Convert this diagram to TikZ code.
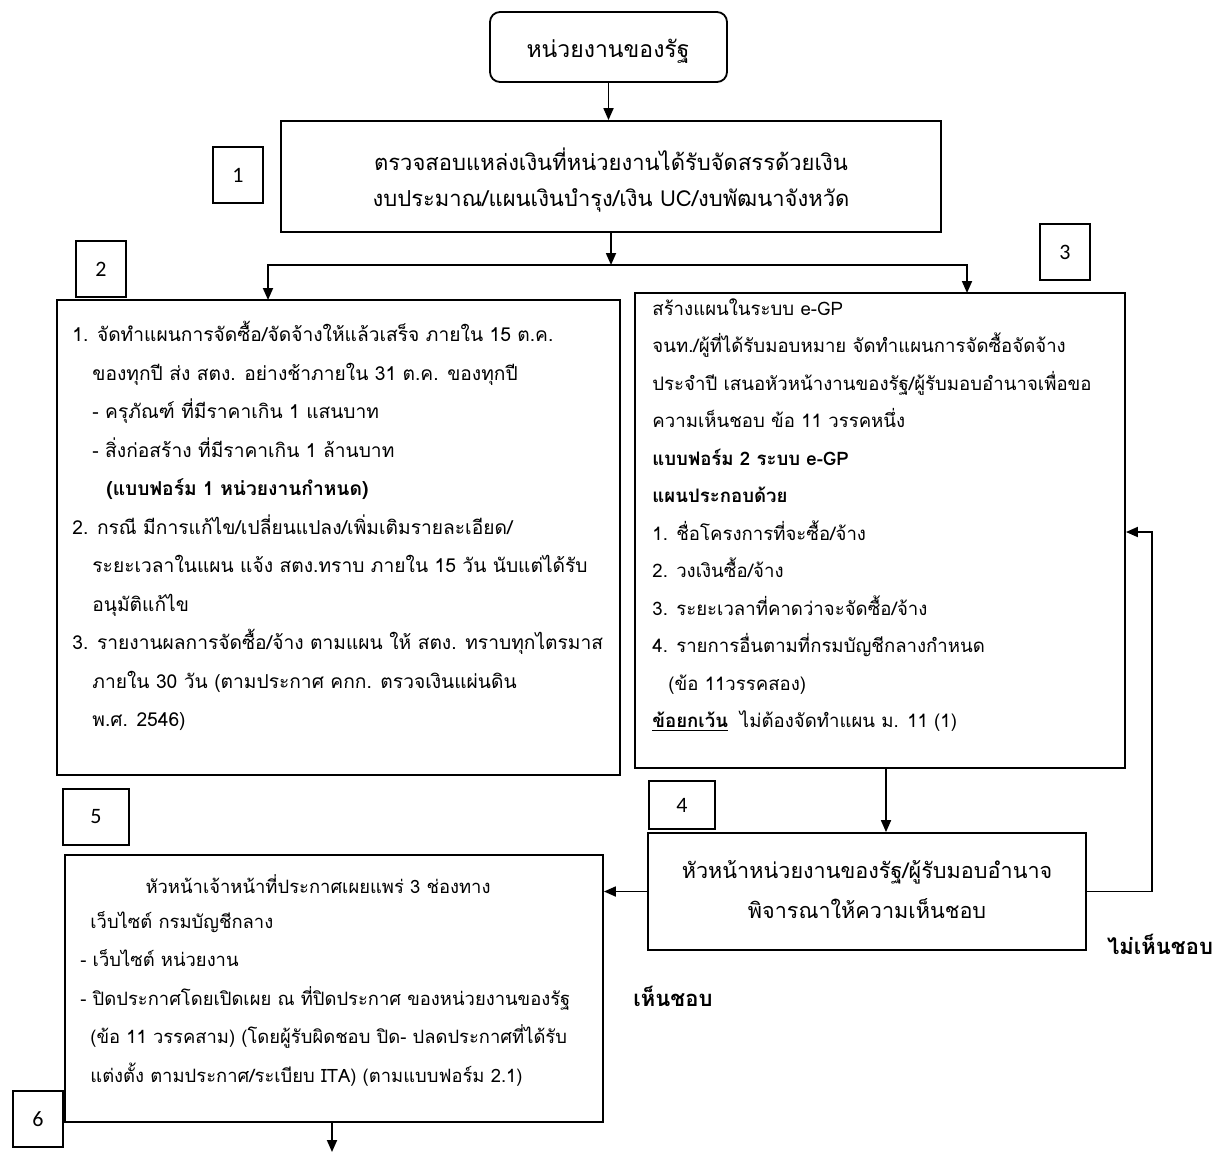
\documentclass[tikz,border=0pt]{standalone}
\usepackage{fontspec}
\setmainfont[Script=Thai]{Loma}
\newfontfamily\numfont{Carlito}
\usetikzlibrary{fit,arrows.meta}

\tikzset{
  box/.style={draw, line width=0.9pt, inner sep=0pt},
  numbox/.style={draw, line width=0.8pt, inner sep=0pt, minimum width=25pt, minimum height=28pt, font=\numfont\fontsize{11}{13}\selectfont},
  arr/.style={line width=0.9pt, -{Triangle[length=6pt,width=5pt]}},
  txt/.style={anchor=north west, align=left, inner sep=0pt, font=\fontsize{9.6}{19.25}\selectfont},
}

\begin{document}
\begin{tikzpicture}[x=0.5pt,y=-0.5pt]
\useasboundingbox (0,0) rectangle (1218,1156);

\node[box, rounded corners=5pt, fit={(490,12) (727,82)}] (unit) {};
\node[box, fit={(281,121) (941,232)}] (check) {};
\node[box, fit={(57,300) (620,775)}] (plan) {};
\node[box, fit={(635,293) (1125,768)}] (egp) {};
\node[box, fit={(648,833) (1086,950)}] (appr) {};
\node[box, fit={(65,855) (603,1122)}] (pub) {};

\node[font=\fontsize{11.5}{14}\selectfont] (unittxt) at (608,51) {หน่วยงานของรัฐ};
\node[align=center, font=\fontsize{11}{18}\selectfont] (checktxt) at (611,180) {ตรวจสอบแหล่งเงินที่หน่วยงานได้รับจัดสรรด้วยเงิน\\งบประมาณ/แผนเงินบำรุง/เงิน UC/งบพัฒนาจังหวัด};
\node[align=center, font=\fontsize{10.8}{20}\selectfont] (apprtxt) at (867,890) {หัวหน้าหน่วยงานของรัฐ/ผู้รับมอบอำนาจ\\พิจารณาให้ความเห็นชอบ};

\node[numbox] (n1) at (238,175) {1};
\node[numbox] (n2) at (101,269) {2};
\node[numbox] (n3) at (1065,252) {3};
\node[numbox, minimum width=33pt, minimum height=24pt] (n4) at (682,805) {4};
\node[numbox, minimum width=33pt] (n5) at (96,817) {5};
\node[numbox] (n6) at (38,1119) {6};

\node[txt] (plantxt) at (72,321) {1. จัดทำแผนการจัดซื้อ/จัดจ้างให้แล้วเสร็จ ภายใน 15 ต.ค.\\
\hspace*{10pt}ของทุกปี ส่ง สตง. อย่างช้าภายใน 31 ต.ค. ของทุกปี\\
\hspace*{10pt}- ครุภัณฑ์ ที่มีราคาเกิน 1 แสนบาท\\
\hspace*{10pt}- สิ่งก่อสร้าง ที่มีราคาเกิน 1 ล้านบาท\\
\hspace*{17pt}\textbf{(แบบฟอร์ม 1 หน่วยงานกำหนด)}\\
2. กรณี มีการแก้ไข/เปลี่ยนแปลง/เพิ่มเติมรายละเอียด/\\
\hspace*{10pt}ระยะเวลาในแผน แจ้ง สตง.ทราบ ภายใน 15 วัน นับแต่ได้รับ\\
\hspace*{10pt}อนุมัติแก้ไข\\
3. รายงานผลการจัดซื้อ/จ้าง ตามแผน ให้ สตง. ทราบทุกไตรมาส\\
\hspace*{10pt}ภายใน 30 วัน (ตามประกาศ คกก. ตรวจเงินแผ่นดิน\\
\hspace*{10pt}พ.ศ. 2546)};

\node[txt, font=\fontsize{9.3}{18.75}\selectfont] (egptxt) at (652,298) {สร้างแผนในระบบ e-GP\\
จนท./ผู้ที่ได้รับมอบหมาย จัดทำแผนการจัดซื้อจัดจ้าง\\
ประจำปี เสนอหัวหน้างานของรัฐ/ผู้รับมอบอำนาจเพื่อขอ\\
ความเห็นชอบ ข้อ 11 วรรคหนึ่ง\\
\textbf{แบบฟอร์ม 2 ระบบ e-GP}\\
\textbf{แผนประกอบด้วย}\\
1. ชื่อโครงการที่จะซื้อ/จ้าง\\
2. วงเงินซื้อ/จ้าง\\
3. ระยะเวลาที่คาดว่าจะจัดซื้อ/จ้าง\\
4. รายการอื่นตามที่กรมบัญชีกลางกำหนด\\
\hspace*{8pt}(ข้อ 11วรรคสอง)\\
\textbf{\underline{ข้อยกเว้น}}\hspace{6pt}ไม่ต้องจัดทำแผน ม. 11 (1)};

\node[font=\fontsize{9.2}{12}\selectfont] (pubhead) at (318,884) {หัวหน้าเจ้าหน้าที่ประกาศเผยแพร่ 3 ช่องทาง};
\node[txt, font=\fontsize{9.2}{19.25}\selectfont] (pubtxt) at (80,911) {\hspace*{5pt}เว็บไซต์ กรมบัญชีกลาง\\
- เว็บไซต์ หน่วยงาน\\
- ปิดประกาศโดยเปิดเผย ณ ที่ปิดประกาศ ของหน่วยงานของรัฐ\\
\hspace*{5pt}(ข้อ 11 วรรคสาม) (โดยผู้รับผิดชอบ ปิด- ปลดประกาศที่ได้รับ\\
\hspace*{5pt}แต่งตั้ง ตามประกาศ/ระเบียบ ITA) (ตามแบบฟอร์ม 2.1)};

\node[font=\bfseries\fontsize{11}{13}\selectfont] (noagree) at (1160,944) {ไม่เห็นชอบ};
\node[font=\bfseries\fontsize{11}{13}\selectfont] (agree) at (673,996) {เห็นชอบ};

\coordinate (split) at (611,265);
\coordinate (planin) at (268,300);
\coordinate (egpin) at (967,293);
\coordinate (egpout) at (886,768);
\coordinate (back) at (1152,532);
\coordinate (next) at (332,1152);

\draw[arr] (unit.south) -- (unit.south |- check.north);
\draw[arr] (check.south) -- (split);
\draw[arr] (split) -| (planin);
\draw[arr] (split) -| (egpin);
\draw[arr] (egpout) -- (egpout |- appr.north);
\draw[arr] (appr.west) -- (appr.west -| pub.east);
\draw[arr] (appr.east) -| (back) -- (back -| egp.east);
\draw[arr] (pub.south -| next) -- (next);
\end{tikzpicture}
\end{document}
